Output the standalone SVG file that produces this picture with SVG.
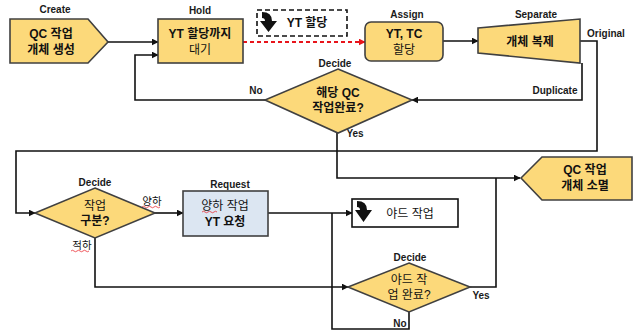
<svg xmlns="http://www.w3.org/2000/svg" width="636" height="330" viewBox="0 0 636 330">
<defs>
<marker id="ah" viewBox="0 0 10 10" refX="9" refY="5" markerWidth="7" markerHeight="7" markerUnits="userSpaceOnUse" orient="auto"><path d="M0,0 L10,5 L0,10 Z" fill="#111"/></marker>
<marker id="ahr" viewBox="0 0 10 10" refX="9" refY="5" markerWidth="7" markerHeight="7" markerUnits="userSpaceOnUse" orient="auto"><path d="M0,0 L10,5 L0,10 Z" fill="#e8141b"/></marker>
</defs>
<style>
.n{fill:#fcd97a;stroke:#404040;stroke-width:1.6}
.b{fill:#dce6f2;stroke:#404040;stroke-width:1.6}
.w{fill:#fff;stroke:#111;stroke-width:1.6}
.c{fill:none;stroke:#111;stroke-width:1.6}
.lb{font-family:"Liberation Sans",sans-serif;font-weight:bold;font-size:10px;fill:#1a1a1a;text-anchor:middle}
.t{font-family:"Liberation Sans","Noto Sans CJK KR",sans-serif;font-size:12px;fill:#111;text-anchor:middle}
.tb{font-weight:bold}
.k{font-family:"Liberation Sans","Noto Sans CJK KR",sans-serif;font-size:10.5px;fill:#111;text-anchor:middle}
.sq{fill:none;stroke:#e8141b;stroke-width:0.7}
.ic{fill:#111}
</style>
<g id="connectors">
<path class="c" d="M108,42 L158,42" marker-end="url(#ah)"/>
<path class="c" d="M265,100 L135,100 L135,55 L158,55" marker-end="url(#ah)"/>
<path d="M243,42 L365,42" fill="none" stroke="#e8141b" stroke-width="1.8" stroke-dasharray="4,3" marker-end="url(#ahr)"/>
<path class="c" d="M443,41 L478,41" marker-end="url(#ah)"/>
<path class="c" d="M580,41 L597,41 L597,151 L16,151 L16,213 L35,213" marker-end="url(#ah)"/>
<path class="c" d="M582,63 L582,100 L412,100" marker-end="url(#ah)"/>
<path class="c" d="M337,133 L337,178 L520,178" marker-end="url(#ah)"/>
<path class="c" d="M155,213 L183,213" marker-end="url(#ah)"/>
<path class="c" d="M268,213 L352,213" marker-end="url(#ah)"/>
<path class="c" d="M95,238 L95,287 L348,287" marker-end="url(#ah)"/>
<path class="c" d="M470,287 L496,287 L496,178"/>
<path class="c" d="M409,312 L409,329 L332,329 L332,213"/>
<text class="lb" x="256" y="94">No</text>
<text class="lb" x="555" y="94">Duplicate</text>
<text class="lb" x="606" y="37">Original</text>
<text class="lb" x="355" y="137">Yes</text>
<text class="k" x="152" y="205">양하</text>
<path class="sq" d="M142,207 q1.5,-1.5 3,0 t3,0 t3,0 t3,0 t3,0 t3,0"/>
<text class="k" x="82" y="249">적하</text>
<path class="sq" d="M71,251 q1.5,-1.5 3,0 t3,0 t3,0 t3,0 t3,0 t3,0"/>
<text class="lb" x="481" y="299">Yes</text>
<text class="lb" x="400" y="327">No</text>
</g>
<g id="create">
<text class="lb" x="55" y="13">Create</text>
<path class="n" d="M10,19 L88,19 L108,42 L88,63 L10,63 Z"/>
<text class="t tb" x="51" y="38">QC 작업</text>
<text class="t tb" x="51" y="54">개체 생성</text>
</g>
<g id="hold">
<text class="lb" x="200" y="14">Hold</text>
<rect class="n" x="158" y="19" width="85" height="44"/>
<text class="t tb" x="200" y="38">YT 할당까지</text>
<text class="t" x="200" y="54">대기</text>
</g>
<g id="yt-assign-note">
<rect x="257" y="10" width="90" height="26" fill="#fff" stroke="#111" stroke-width="1.6" stroke-dasharray="5,3"/>
<path class="ic" d="M262,12 Q272,12 272,21 L277,21 L268.5,32 L260,21 L265,21 Q265,18 262,18 Z"/>
<text class="t tb" x="307" y="27">YT 할당</text>
</g>
<g id="assign">
<text class="lb" x="407" y="18">Assign</text>
<rect class="n" x="365" y="22" width="78" height="39" rx="6"/>
<text class="t tb" x="404" y="38">YT, TC</text>
<text class="t" x="404" y="54">할당</text>
</g>
<g id="separate">
<text class="lb" x="536" y="18">Separate</text>
<path class="n" d="M478,28 L580,19 L580,63 L478,53 Z"/>
<text class="t tb" x="530" y="46">개체 복제</text>
</g>
<g id="decide-qc">
<text class="lb" x="335" y="67">Decide</text>
<path class="n" d="M338,69 L412,100 L338,133 L265,100 Z"/>
<text class="t tb" x="338" y="97">해당 QC</text>
<text class="t tb" x="338" y="112">작업완료?</text>
</g>
<g id="dispose">
<path class="n" d="M521,178 L542,157 L632,157 L632,200 L542,200 Z"/>
<text class="t tb" x="585" y="174">QC 작업</text>
<text class="t tb" x="585" y="190">개체 소멸</text>
</g>
<g id="decide-type">
<text class="lb" x="95" y="186">Decide</text>
<path class="n" d="M95,188 L155,213 L95,238 L35,213 Z"/>
<text class="t" x="95" y="210">작업</text>
<text class="t tb" x="95" y="225">구분?</text>
</g>
<g id="request">
<text class="lb" x="230" y="188">Request</text>
<rect class="b" x="183" y="191" width="85" height="45"/>
<text class="t" x="225" y="210">양하 작업</text>
<path class="sq" d="M202,212 q1.5,-1.5 3,0 t3,0 t3,0 t3,0 t3,0"/>
<text class="t tb" x="225" y="226">YT 요청</text>
</g>
<g id="yard-work">
<rect class="w" x="352" y="199" width="106" height="28"/>
<path class="ic" d="M357,201 Q367,201 367,210 L372,210 L363.5,222 L355,210 L360,210 Q360,207 357,207 Z"/>
<text class="t" x="410" y="218">야드 작업</text>
</g>
<g id="decide-yard">
<text class="lb" x="410" y="261">Decide</text>
<path class="n" d="M409,263 L470,287 L409,312 L348,287 Z"/>
<text class="t" x="409" y="284">야드 작</text>
<text class="t" x="409" y="299">업 완료?</text>
</g>
</svg>
